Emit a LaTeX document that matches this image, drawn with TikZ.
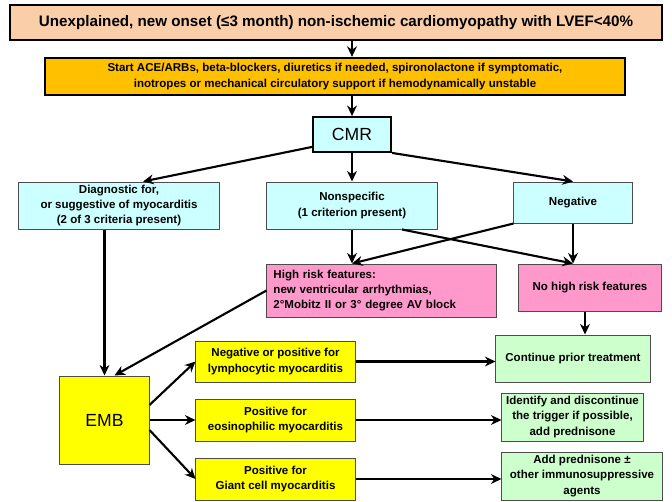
\documentclass[tikz,border=0pt]{standalone}
\usepackage{fontspec}
\setmainfont{Liberation Sans}
\usetikzlibrary{arrows.meta, positioning, calc}
\definecolor{peach}{RGB}{250,206,168}
\definecolor{gold}{RGB}{255,192,0}
\definecolor{paleblue}{RGB}{204,255,255}
\definecolor{pink}{RGB}{255,153,204}
\definecolor{lemon}{RGB}{255,255,0}
\definecolor{palegreen}{RGB}{204,255,204}

\begin{document}
\begin{tikzpicture}[x=0.025cm, y=-0.025cm,
    box/.style={draw=black!70, line width=0.7pt, align=center, inner sep=1pt,
        font=\bfseries\fontsize{8.2}{10.8}\selectfont},
    mainbox/.style={box, draw=black, line width=1.6pt},
    arr/.style={-{Stealth[length=7.5pt,width=7pt]}, line width=1.5pt}]

        \useasboundingbox (0,0) rectangle (672,501);

        % Header boxes
        \node[mainbox, fill=peach, minimum width=16.3cm, minimum height=0.875cm,
            font=\bfseries\fontsize{10.8}{12}\selectfont] (onset) at (336,22.5)
            {Unexplained, new onset (≤3 month) non-ischemic cardiomyopathy with LVEF<40\%};
        \node[mainbox, fill=gold, minimum width=14.5cm, minimum height=0.925cm] (start) at (335,76.5)
            {Start ACE/ARBs, beta-blockers, diuretics if needed, spironolactone if symptomatic,\\
             inotropes or mechanical circulatory support if hemodynamically unstable};

        % CMR and its findings
        \node[box, fill=paleblue, draw=black, line width=1.3pt, minimum width=1.95cm, minimum height=0.875cm,
            font=\fontsize{12.5}{14}\selectfont] (cmr) at (352,134.5) {CMR};
        \node[box, fill=paleblue, minimum width=5cm, minimum height=1.175cm] (diag) at (119,205.5)
            {Diagnostic for,\\ or suggestive of myocarditis\\ (2 of 3 criteria present)};
        \node[box, fill=paleblue, minimum width=4.25cm, minimum height=1.175cm] (nonspec) at (352,205.5)
            {Nonspecific\\ (1 criterion present)};
        \node[box, fill=paleblue, minimum width=2.95cm, minimum height=1.025cm] (neg) at (573,202.5)
            {Negative};

        % Risk features
        \node[box, fill=pink, minimum width=5.725cm, minimum height=1.325cm, align=left,
            text width=5.4cm] (highrisk) at (381.5,290.5)
            {High risk features:\\ new ventricular arrhythmias,\\ 2°Mobitz II or 3°  degree  AV block};
        \node[box, fill=pink, minimum width=3.55cm, minimum height=1.175cm] (nohigh) at (590,287.5)
            {No high risk features};

        % Biopsy and results
        \node[box, fill=lemon, minimum width=2.225cm, minimum height=2.2cm,
            font=\fontsize{12.5}{15}\selectfont] (emb) at (104.5,420) {EMB};
        \node[box, fill=lemon, minimum width=3.975cm, minimum height=1.025cm] (lympho) at (275.5,361.5)
            {Negative or positive for\\ lymphocytic myocarditis};
        \node[box, fill=lemon, minimum width=3.975cm, minimum height=1.05cm] (eosino) at (275.5,420)
            {Positive for\\ eosinophilic myocarditis};
        \node[box, fill=lemon, minimum width=3.975cm, minimum height=1.05cm] (giant) at (275.5,479)
            {Positive for\\ Giant cell myocarditis};

        % Treatment
        \node[box, fill=palegreen, minimum width=3.85cm, minimum height=1.175cm] (prior) at (573,358.5)
            {Continue prior treatment};
        \node[box, fill=palegreen, minimum width=3.525cm, minimum height=1.2cm] (trigger) at (572.5,417)
            {Identify and discontinue\\ the trigger if possible,\\ add prednisone};
        \node[box, fill=palegreen, minimum width=4cm, minimum height=1.2cm] (predni) at (582,476)
            {Add prednisone ±\\ other immunosuppressive\\ agents};

        % Connectors
        \draw[arr] (onset.south -| cmr) -- (start.north -| cmr);
        \draw[arr] (start.south -| cmr) -- (cmr.north);
        \draw[arr] ([yshift=0.15cm]cmr.south west) -- ([xshift=0.6cm]diag.north);
        \draw[arr] (cmr.south) -- (nonspec.north);
        \draw[arr] (cmr.south east) -- (neg.north);
        \draw[arr] (nonspec.south) -- (nonspec.south |- highrisk.north);
        \draw[arr] ([xshift=1.25cm]nonspec.south) -- (neg.south |- nohigh.north);
        \draw[arr] (neg.south west) -- (nonspec.south |- highrisk.north);
        \draw[arr] (neg.south) -- (neg.south |- nohigh.north);
        \draw[arr] (emb.north |- diag.south) -- (emb.north);
        \draw[arr] (highrisk.west) -- ([xshift=0.25cm]emb.north);
        \draw[arr] ([xshift=-0.125cm]nohigh.south) -- ([xshift=-0.125cm]nohigh.south |- prior.north);
        \draw[arr] ([yshift=0.375cm]emb.east) -- (lympho.west);
        \draw[arr] (emb.east) -- (eosino.west);
        \draw[arr] ([yshift=-0.25cm]emb.east) -- (giant.west);
        \draw[arr] (lympho.east) -- (lympho.east -| prior.west);
        \draw[arr] (eosino.east) -- (eosino.east -| trigger.west);
        \draw[arr] (giant.east) -- (giant.east -| predni.west);

\end{tikzpicture}
\end{document}
